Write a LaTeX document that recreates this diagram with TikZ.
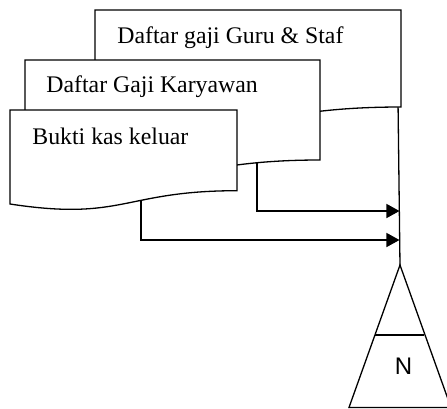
\documentclass[tikz,border=0pt]{standalone}
\usepackage{fontspec}
\setmainfont{Liberation Serif}
\newfontfamily\arialfont{Liberation Sans}
\usetikzlibrary{arrows.meta}
\tikzset{
  docshape/.style={draw=black, fill=white, line width=0.65pt},
  doclabel/.style={anchor=base west, inner sep=0pt, font=\fontsize{11.9}{14}\selectfont},
  flow/.style={draw=black, line width=0.65pt, -{Triangle[length=6.5pt,width=7pt]}},
  plainline/.style={draw=black, line width=0.65pt},
}
\begin{document}
\begin{tikzpicture}[x=0.5pt, y=-0.5pt]
\useasboundingbox (0,0) rectangle (447,409);
\clip (0,0) rectangle (447,409);

% anchor points on the documents and the file symbol
\coordinate (gurubot) at (398,100);
\coordinate (karout) at (257,150);
\coordinate (bukout) at (141,185);
\coordinate (in1) at (399.5,211);
\coordinate (in2) at (399.5,240);
\coordinate (apex) at (400,265);

% flow lines into the file (documents are drawn over their upper ends)
\draw[plainline] (gurubot) -- (apex);
\draw[flow] (karout) |- (in1);
\draw[flow] (bukout) |- (in2);

% document: Daftar gaji Guru & Staf
\path[docshape] (95,10) -- (401,10) -- (401,107)
  .. controls (248,107) and (248,144) .. (95,123) -- cycle;
\node[doclabel] (guru) at (117,43.5) {Daftar gaji Guru \& Staf};

% document: Daftar Gaji Karyawan
\path[docshape] (25,60) -- (320,60) -- (320,160)
  .. controls (172.5,160) and (172.5,198) .. (25,176.5) -- cycle;
\node[doclabel] (karyawan) at (46,92.5) {Daftar Gaji Karyawan};

% document: Bukti kas keluar
\path[docshape] (10,110) -- (237,110) -- (237,190.7)
  .. controls (123.5,190.7) and (123.5,221.4) .. (10,204) -- cycle;
\node[doclabel] (bukti) at (32,144) {Bukti kas keluar};

% offline file (archive) symbol
\draw[plainline] (apex) -- (349,407.5) -- (451,407.5) -- cycle;
\draw[plainline] (375.5,335) -- (424.5,335);
\node[inner sep=0pt, font=\arialfont\fontsize{12}{14}\selectfont] (fileN) at (403.5,366.5) {N};
\end{tikzpicture}
\end{document}
